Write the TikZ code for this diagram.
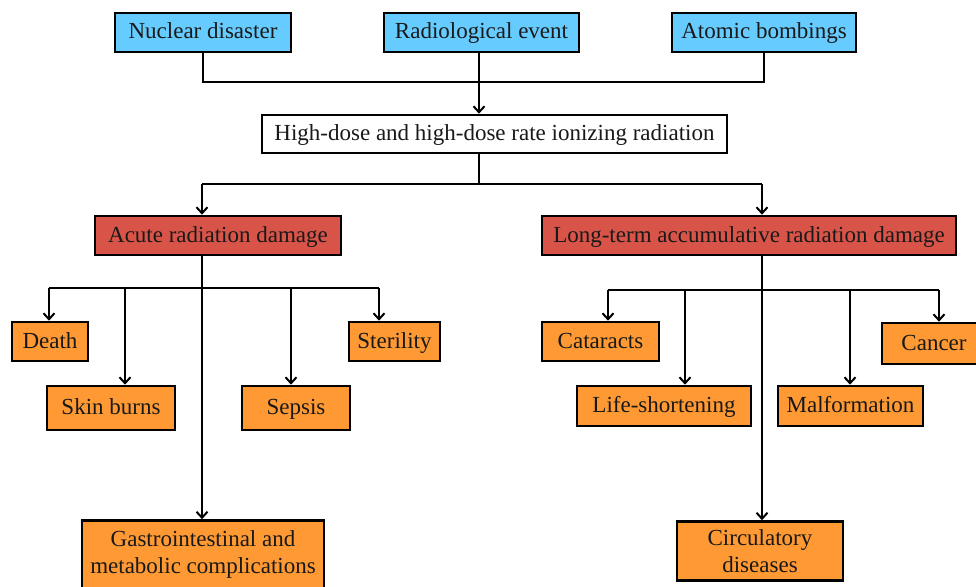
\documentclass[tikz,border=0pt]{standalone}
\usepackage{fontspec}
\setmainfont{Liberation Serif}
\usetikzlibrary{arrows.meta}
\definecolor{srcblue}{RGB}{102,204,255}
\definecolor{dmgred}{RGB}{217,84,72}
\definecolor{effor}{RGB}{255,153,51}
\definecolor{txt}{RGB}{25,25,25}
\begin{document}
\begin{tikzpicture}[x=1pt,y=-1pt,
  boxbase/.style={draw=black,line width=2.6pt,inner sep=0pt,text=txt,
    font=\fontsize{23}{27}\selectfont,align=center},
  box/.style={boxbase,text height=17pt,text depth=4pt},
  srcbox/.style={box,fill=srcblue},
  dmgbox/.style={box,fill=dmgred},
  effbox/.style={box,fill=effor},
  effbox2/.style={boxbase,fill=effor},
  conn/.style={draw=black,line width=2pt},
  arr/.style={conn,-{Straight Barb[length=6pt,width=11pt,line width=2pt]}}]
\useasboundingbox (0,0) rectangle (976,586);
\clip (0,0) rectangle (976,586);
\fill[white] (0,0) rectangle (976,586);
% top sources
\node[srcbox,minimum width=176pt,minimum height=39pt] (nuc) at (203,32.5) {Nuclear disaster};
\node[srcbox,minimum width=195pt,minimum height=39pt] (rad) at (481.5,32.5) {Radiological event};
\node[srcbox,minimum width=184pt,minimum height=39pt] (atom) at (764,32.5) {Atomic bombings};
% central
\node[box,fill=white,minimum width=465pt,minimum height=38pt] (high) at (494.5,134) {High-dose and high-dose rate ionizing radiation};
% damage
\node[dmgbox,minimum width=246pt,minimum height=39pt] (acute) at (218,235.5) {Acute radiation damage};
\node[dmgbox,minimum width=414pt,minimum height=39pt] (long) at (749,235.5) {Long-term accumulative radiation damage};
% acute effects
\node[effbox,minimum width=76pt,minimum height=39pt] (death) at (50,341.5) {Death};
\node[effbox,minimum width=128pt,minimum height=44pt] (skin) at (111,408) {Skin burns};
\node[effbox,minimum width=108pt,minimum height=44pt] (sepsis) at (296,408) {Sepsis};
\node[effbox,minimum width=91pt,minimum height=39pt] (steril) at (394.5,341.5) {Sterility};
\node[effbox2,minimum width=242pt,minimum height=68pt] (gastro) at (203,554.5) {Gastrointestinal and\\metabolic complications};
% long-term effects
\node[effbox,minimum width=117pt,minimum height=39pt] (catar) at (600.5,341.5) {Cataracts};
\node[effbox,minimum width=174pt,minimum height=40pt] (life) at (664,406) {Life-shortening};
\node[effbox,minimum width=145pt,minimum height=40pt] (malf) at (850.5,406) {Malformation};
\node[effbox,minimum width=104pt,minimum height=41pt] (cancer) at (934,343.5) {Cancer};
\node[effbox2,minimum width=166pt,minimum height=59pt] (circ) at (760,551) {Circulatory\\diseases};
% connectors top
\coordinate (j1) at (479,82);
\draw[conn] (nuc.south) |- (j1) -| (atom.south);
\draw[arr] (rad.south -| j1) -- (high.north -| j1);
\coordinate (j2) at (479,184);
\coordinate (ja) at (202,184);
\coordinate (jl) at (762,184);
\draw[conn] (high.south -| j2) -- (j2);
\draw[conn] (ja) -- (jl);
\draw[arr] (ja) -- (acute.north -| ja);
\draw[arr] (jl) -- (long.north -| jl);
% acute subtree
\coordinate (ka) at (202,288);
\coordinate (kd) at (49,288);
\coordinate (ks) at (125,288);
\coordinate (kp) at (291,288);
\coordinate (kt) at (379,288);
\draw[conn] (kd) -- (kt);
\draw[arr] (acute.south -| ka) -- (gastro.north -| ka);
\draw[arr] (kd) -- (death.north -| kd);
\draw[arr] (ks) -- (skin.north -| ks);
\draw[arr] (kp) -- (sepsis.north -| kp);
\draw[arr] (kt) -- (steril.north -| kt);
% long-term subtree
\coordinate (la) at (762,290);
\coordinate (lc) at (608,290);
\coordinate (ll) at (685,290);
\coordinate (lm) at (850,290);
\coordinate (ln) at (939,290);
\draw[conn] (lc) -- (ln);
\draw[arr] (long.south -| la) -- (circ.north -| la);
\draw[arr] (lc) -- (catar.north -| lc);
\draw[arr] (ll) -- (life.north -| ll);
\draw[arr] (lm) -- (malf.north -| lm);
\draw[arr] (ln) -- (cancer.north -| ln);
\end{tikzpicture}
\end{document}
